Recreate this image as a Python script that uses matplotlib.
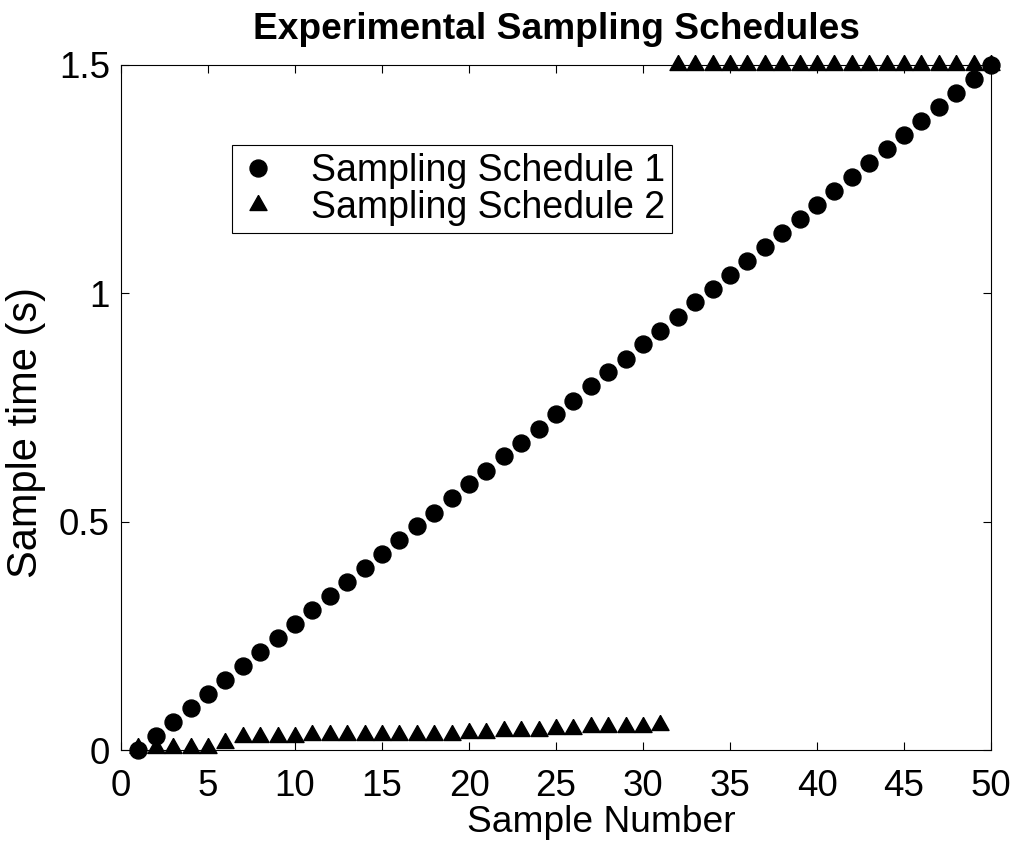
import matplotlib
matplotlib.use("Agg")
import matplotlib.pyplot as plt
import numpy as np

plt.rcParams['font.family'] = ['Liberation Sans', 'DejaVu Sans']

# sample numbers 1..50
sample_number = [1, 2, 3, 4, 5, 6, 7, 8, 9, 10,
                 11, 12, 13, 14, 15, 16, 17, 18, 19, 20,
                 21, 22, 23, 24, 25, 26, 27, 28, 29, 30,
                 31, 32, 33, 34, 35, 36, 37, 38, 39, 40,
                 41, 42, 43, 44, 45, 46, 47, 48, 49, 50]

# schedule 1: evenly spaced samples from 0 to 1.5 s
schedule_1 = [0.000, 0.031, 0.061, 0.092, 0.122, 0.153, 0.184, 0.214, 0.245, 0.276,
              0.306, 0.337, 0.367, 0.398, 0.429, 0.459, 0.490, 0.520, 0.551, 0.582,
              0.612, 0.643, 0.673, 0.704, 0.735, 0.765, 0.796, 0.827, 0.857, 0.888,
              0.918, 0.949, 0.980, 1.010, 1.041, 1.071, 1.102, 1.133, 1.163, 1.194,
              1.224, 1.255, 1.286, 1.316, 1.347, 1.378, 1.408, 1.439, 1.469, 1.500]

# schedule 2: dense early samples, then the rest at 1.5 s
schedule_2 = [0.004, 0.004, 0.004, 0.004, 0.004, 0.015, 0.029, 0.029, 0.029, 0.029,
              0.033, 0.033, 0.033, 0.033, 0.033, 0.033, 0.033, 0.033, 0.033, 0.037,
              0.037, 0.042, 0.042, 0.042, 0.046, 0.046, 0.051, 0.051, 0.051, 0.051,
              0.055, 1.5, 1.5, 1.5, 1.5, 1.5, 1.5, 1.5, 1.5, 1.5,
              1.5, 1.5, 1.5, 1.5, 1.5, 1.5, 1.5, 1.5, 1.5, 1.5]

labels = ['Sampling Schedule 1', 'Sampling Schedule 2']
x_ticks = [0, 5, 10, 15, 20, 25, 30, 35, 40, 45, 50]
y_ticks = [0, 0.5, 1, 1.5]
y_tick_labels = ['0', '0.5', '1', '1.5']

# triangle with its centroid on the data point (like MATLAB's '^')
tri = [(0, 10), (-8.5, -5), (8.5, -5), (0, 10)]

fig = plt.figure(figsize=(10.24, 8.44), dpi=100)
ax = fig.add_axes([121 / 1024, 94 / 844, 870 / 1024, 685 / 844])

ax.plot(sample_number, schedule_1, linestyle='none', marker='o', markersize=12.2,
        color='black', clip_on=False, zorder=3, label=labels[0])
ax.plot(sample_number, schedule_2, linestyle='none', marker=tri, markersize=14.4,
        color='black', clip_on=False, zorder=3, label=labels[1])

ax.set_xlim(0, 50)
ax.set_ylim(0, 1.5)
ax.set_xticks(x_ticks)
ax.set_yticks(y_ticks)
ax.set_yticklabels(y_tick_labels)

ax.tick_params(direction='in', length=6, width=0.8, top=True, right=True,
               labelsize=26.5, colors='black')
ax.tick_params(axis='x', pad=14)
ax.tick_params(axis='y', pad=8)
for sp in ax.spines.values():
    sp.set_linewidth(0.8)
    sp.set_color('black')

ax.set_title('Experimental Sampling Schedules', fontsize=26.7, fontweight='bold', pad=19)
ax.set_xlabel('Sample Number', fontsize=26.7)
ax.set_ylabel('Sample time (s)', fontsize=30)
ax.xaxis.set_label_coords(0.552, -0.081)
ax.yaxis.set_label_coords(-0.086, 0.464)

leg = ax.legend(loc='upper left', bbox_to_anchor=(0.1276, 0.883), borderaxespad=0,
                fontsize=27, frameon=True, fancybox=False, framealpha=1,
                edgecolor='black', borderpad=0.2, handlelength=1.0,
                handletextpad=0.9, labelspacing=0.03)
leg.get_frame().set_linewidth(0.8)

fig.savefig('out.png', dpi=100)
